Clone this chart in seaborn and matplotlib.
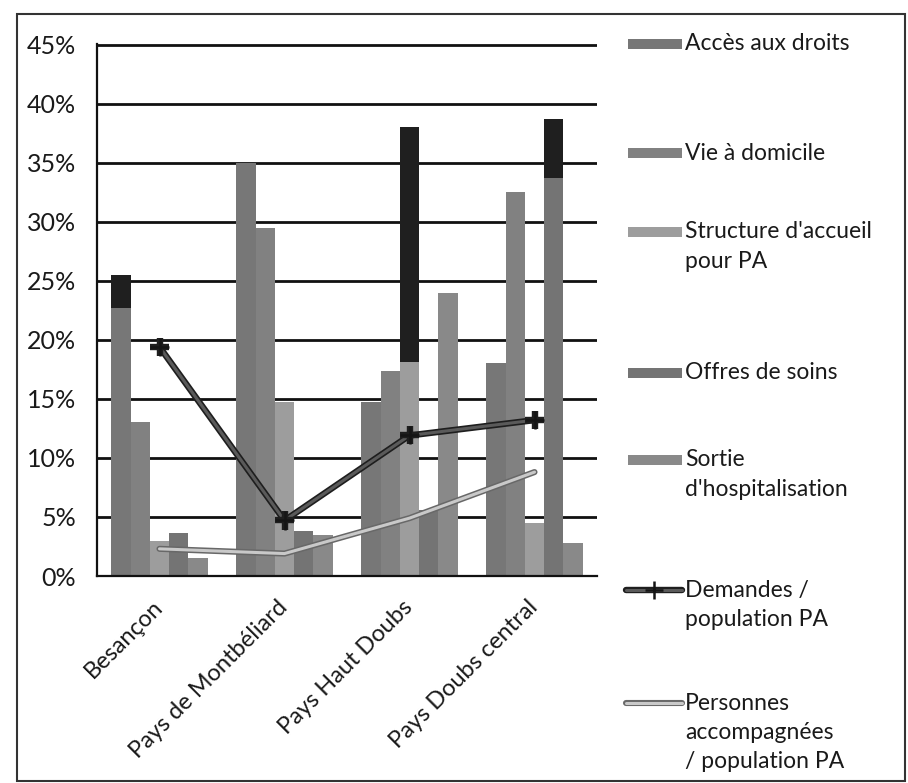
import numpy as np
import pandas as pd
import seaborn as sns
import matplotlib
matplotlib.use("Agg")
import matplotlib.pyplot as plt
import matplotlib.patheffects as pe
from matplotlib.ticker import PercentFormatter, FixedLocator
from matplotlib.patches import Rectangle
from matplotlib.lines import Line2D

# ---- data -------------------------------------------------------------
regions = ["Besançon", "Pays de Montbéliard", "Pays Haut Doubs", "Pays Doubs central"]
themes = ["Accès aux droits", "Vie à domicile", "Structure d'accueil\npour PA",
          "Offres de soins", "Sortie\nd'hospitalisation"]

acces = [0.255, 0.350, 0.147, 0.180]
vie_domicile = [0.130, 0.295, 0.174, 0.325]
structure = [0.030, 0.147, 0.380, 0.045]
offres_soins = [0.036, 0.038, 0.056, 0.387]
sortie_hospit = [0.015, 0.035, 0.240, 0.028]

# level from which some bars are drawn with a dark upper section
acces_dark = [0.227, None, None, None]
structure_dark = [None, None, 0.181, None]
offres_dark = [None, None, None, 0.337]

demandes = [0.194, 0.047, 0.119, 0.132]
personnes = [0.023, 0.019, 0.049, 0.088]

line_labels = ["Demandes /\npopulation PA", "Personnes\naccompagnées\n/ population PA"]

bar_colors = ["#777777", "#818181", "#9d9d9d", "#747474", "#898989"]
dark_color = "#1f1f1f"

series = [acces, vie_domicile, structure, offres_soins, sortie_hospit]
dark_caps = [acces_dark, None, structure_dark, offres_dark, None]

df = pd.DataFrame({
    "region": [r for _ in themes for r in regions],
    "theme": [t for t in themes for _ in regions],
    "value": [v for s in series for v in s],
})

# ---- figure -------------------------------------------------------------
W, H = 908, 783
sns.set_style("white")
plt.rcParams["font.family"] = ["Lato", "DejaVu Sans"]
fig = plt.figure(figsize=(W / 100, H / 100), dpi=100)

def fx(px):
    return px / W

def fy(py):
    return 1 - py / H

ax = fig.add_axes([fx(97), fy(576), fx(597) - fx(97), fy(44) - fy(576)])

sns.barplot(data=df, x="region", y="value", hue="theme", order=regions,
            hue_order=themes, palette=bar_colors, width=0.77, saturation=1,
            errorbar=None, legend=False, linewidth=0, ax=ax)

# dark upper sections
for cont, caps in zip(ax.containers, dark_caps):
    if caps is None:
        continue
    for patch, lo in zip(cont.patches, caps):
        if lo is None:
            continue
        top = patch.get_height()
        ax.bar(patch.get_x(), top - lo, bottom=lo, width=patch.get_width(),
               align="edge", color=dark_color, linewidth=0, zorder=patch.get_zorder() + 0.1)

xpos = np.arange(len(regions))
dem_core, dem_edge = "#5a5a5a", "#1e1e1e"
per_core, per_edge = "#c9c9c9", "#686868"
dem_fx = [pe.Stroke(linewidth=4.6, foreground=dem_edge), pe.Normal()]
per_fx = [pe.Stroke(linewidth=4.4, foreground=per_edge), pe.Normal()]

sns.lineplot(x=xpos, y=demandes, color=dem_core, linewidth=2.2, marker="+",
             markersize=13, markeredgewidth=1.8, markeredgecolor="#151515",
             ax=ax, zorder=5)
ax.lines[-1].set_path_effects(dem_fx)
sns.lineplot(x=xpos, y=personnes, color=per_core, linewidth=2.2, ax=ax, zorder=5)
ax.lines[-1].set_path_effects(per_fx)

# axes styling
ax.set_xlim(-0.5, 3.5)
ax.set_ylim(0, 0.4505)
ax.set_xlabel("")
ax.set_ylabel("")
ax.yaxis.set_major_locator(FixedLocator(np.arange(0, 0.451, 0.05)))
ax.yaxis.set_major_formatter(PercentFormatter(1.0, decimals=0))
ax.yaxis.grid(True, color="#111111", linewidth=2)
ax.set_axisbelow(True)
for side in ["top", "right"]:
    ax.spines[side].set_visible(False)
for side in ["left", "bottom"]:
    ax.spines[side].set_color("#111111")
    ax.spines[side].set_linewidth(1.6)

ax.tick_params(axis="y", which="major", direction="out", length=6, width=1.6,
               color="#111111", pad=9, labelsize=18, labelcolor="#1a1a1a")
ax.xaxis.set_minor_locator(FixedLocator([-0.5, 0.5, 1.5, 2.5, 3.5]))
ax.tick_params(axis="x", which="minor", direction="out", length=6, width=1.6,
               color="#111111")
ax.tick_params(axis="x", which="major", length=0, pad=20, labelsize=17,
               labelcolor="#1a1a1a")
plt.setp(ax.get_xticklabels(), rotation=45, ha="right", va="center",
         rotation_mode="anchor")

# legend on the right
legend_font = 16.5
line_step = 29.5
entries = [
    ("bar", 0, 44), ("bar", 1, 153), ("bar", 2, 232), ("bar", 3, 373),
    ("bar", 4, 460), ("line", 0, 590), ("line", 1, 703),
]
for kind, idx, y0 in entries:
    if kind == "bar":
        label = themes[idx]
        fig.patches.append(Rectangle((fx(628), fy(y0 + 5)), fx(682) - fx(628),
                                     fy(y0 - 5) - fy(y0 + 5), transform=fig.transFigure,
                                     facecolor=bar_colors[idx], edgecolor="none"))
    else:
        label = line_labels[idx]
        if idx == 0:
            ln = Line2D([fx(626), fx(682)], [fy(y0), fy(y0)], transform=fig.transFigure,
                        color=dem_core, linewidth=2.2)
            ln.set_path_effects(dem_fx)
            fig.lines.append(ln)
            fig.lines.append(Line2D([fx(654)], [fy(y0)], transform=fig.transFigure,
                                    marker="+", markersize=13, markeredgewidth=1.8,
                                    color="#151515", linestyle="none"))
        else:
            ln = Line2D([fx(626), fx(682)], [fy(y0), fy(y0)], transform=fig.transFigure,
                        color=per_core, linewidth=2.2)
            ln.set_path_effects(per_fx)
            fig.lines.append(ln)
    for k, part in enumerate(label.split("\n")):
        fig.text(fx(685), fy(y0 + k * line_step), part, fontsize=legend_font,
                 color="#1a1a1a", ha="left", va="center")

# outer frame
fig.patches.append(Rectangle((fx(17), fy(781)), fx(905) - fx(17), fy(14) - fy(781),
                             transform=fig.transFigure, facecolor="none",
                             edgecolor="#333333", linewidth=1.5))

fig.savefig("out.png", dpi=100)
